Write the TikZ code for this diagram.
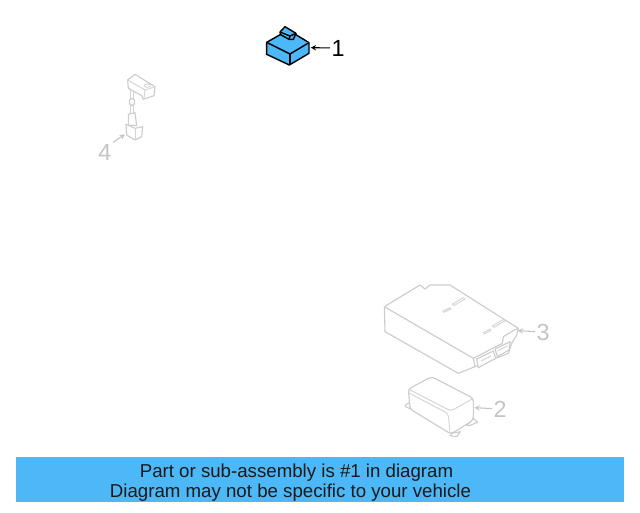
\documentclass[tikz,border=0pt]{standalone}
\usepackage{fontspec}
\setmainfont{Liberation Sans}
\tikzset{part/.style={draw=black!20,line width=0.85pt,line join=round,fill=white}}
\tikzset{thin part/.style={draw=black!17,line width=0.7pt,line join=round}}
\tikzset{main part/.style={draw=black,line width=1.05pt,line join=round,fill=partblue}}
\tikzset{num/.style={font=\fontsize{17.5}{17.5}\selectfont,inner sep=1pt}}
\tikzset{callout/.style={-stealth,line width=0.8pt}}
\definecolor{partblue}{HTML}{4DB8F8}
\definecolor{numgray}{HTML}{C4C4C4}
\begin{document}
\begin{tikzpicture}[x=0.75pt,y=-0.75pt]
    \useasboundingbox (0,0) rectangle (640,512);
    % part 1
    \begin{scope}[shift={(240,10)},x=0.25pt,y=-0.25pt]
      \draw[main part] (80,97) -- (145,60) -- (207,98) -- (207,130) -- (148,165) -- (80,133) -- cycle;
      \draw[main part] (80,97) -- (150,132) -- (207,98);
      \draw[main part] (150,132) -- (150,165);
      \draw[main part] (120,66) -- (135,50) -- (168,70) -- (160,88) -- (147,88) -- (122,74) -- cycle;
      \draw[main part] (120,66) -- (150,78) -- (168,70);
      \draw[main part] (150,78) -- (147,88);
      \coordinate (tip1) at (212,113);
    \end{scope}
    % part 4
    \begin{scope}[shift={(90,65)},x=0.25pt,y=-0.25pt]
      \draw[thin part] (121,75) -- (121,145) (130,75) -- (130,145);
      \draw[part] (118,106) -- (125,100) -- (134,106) -- (134,116) -- (125,122) -- (118,116) -- cycle;
      \draw[part] (115,70) -- (113,45) -- (135,28) -- (195,65) -- (192,92) -- (160,103) -- (155,92) -- cycle;
      \draw[thin part] (113,45) -- (165,75) -- (195,65) (165,75) -- (162,100);
      \draw[thin part] (172,62) ellipse (9 and 5);
      \draw[part] (115,180) -- (115,148) -- (135,143) -- (140,182) -- cycle;
      \draw[part] (108,178) -- (110,210) -- (135,225) -- (155,215) -- (158,185) -- (135,190) -- cycle;
      \draw[thin part] (135,190) -- (135,225);
      \coordinate (tip4) at (105,208);
    \end{scope}
    % part 3
    \begin{scope}[shift={(375,275)},x=0.25pt,y=-0.25pt]
      \draw[part] (28,95) -- (135,30) -- (150,42) -- (165,30) -- (225,30) -- (430,160) -- (425,180) -- (410,205) -- (400,235) -- (250,295) -- (30,170) -- cycle;
      \draw[part] (28,95) -- (295,250) -- (382,205) -- (385,185) -- (418,165) -- (430,160);
      \draw[part] (295,250) -- (300,275);
      \draw[part] (305,252) -- (355,228) -- (362,250) -- (310,278) -- cycle;
      \draw[part] (360,222) -- (405,200) -- (402,225) -- (367,245) -- cycle;
      \draw[thin part] (318,258) -- (348,243) (368,228) -- (398,212);
      \draw[thin part] (232,88) -- (265,68) -- (270,72) -- (237,92) -- cycle;
      \draw[thin part] (204,108) -- (225,98) -- (228,102) -- (207,112) -- cycle;
      \draw[thin part] (352,153) -- (385,133) -- (390,137) -- (357,157) -- cycle;
      \draw[thin part] (325,173) -- (345,162) -- (348,166) -- (328,177) -- cycle;
      \coordinate (tip3) at (428,167);
    \end{scope}
    % part 2
    \begin{scope}[shift={(395,365)},x=0.25pt,y=-0.25pt]
      \draw[part] (45,112) to[out=200,in=150] (32,125) -- (46,132) -- cycle;
      \draw[part] (235,160) -- (248,172) to[out=190,in=-10] (215,182) -- cycle;
      \draw[part] (170,205) -- (196,200) -- (185,215) -- (165,212) -- cycle;
      \draw[part,rounded corners=2.5pt] (40,72) -- (110,35) -- (235,100) -- (235,165) -- (168,207) -- (45,132) -- cycle;
      \draw[thin part,rounded corners=2.5pt] (40,72) -- (168,138) -- (235,100);
      \draw[thin part,rounded corners=2.5pt] (42,84) -- (160,146) -- (165,205);
      \coordinate (tip2) at (238,128);
    \end{scope}
    % numbers
    \node[num,anchor=west] (lab1) at (330,48) {1};
    \node[num,text=numgray,anchor=east] (lab4) at (113,152) {4};
    \node[num,text=numgray,anchor=west] (lab3) at (535,332) {3};
    \node[num,text=numgray,anchor=west] (lab2) at (492,409) {2};
    \draw[callout,black] (lab1) -- (tip1);
    \draw[callout,numgray] (lab4.north east) -- (tip4);
    \draw[callout,numgray] (lab3) -- (tip3);
    \draw[callout,numgray] (lab2) -- (tip2);
    % banner
    \node[fill=partblue,minimum width=456pt,minimum height=33.75pt,inner sep=0pt,anchor=north west] (banner) at (16,457) {};
    \node[font=\fontsize{14}{16}\selectfont,text=black!90,inner sep=0pt] (line1) at (296.5,473) {Part or sub-assembly is \#1 in diagram};
    \node[font=\fontsize{14}{16}\selectfont,text=black!90,inner sep=0pt] (line2) at (290.5,492.5) {Diagram may not be specific to your vehicle};
\end{tikzpicture}
\end{document}
